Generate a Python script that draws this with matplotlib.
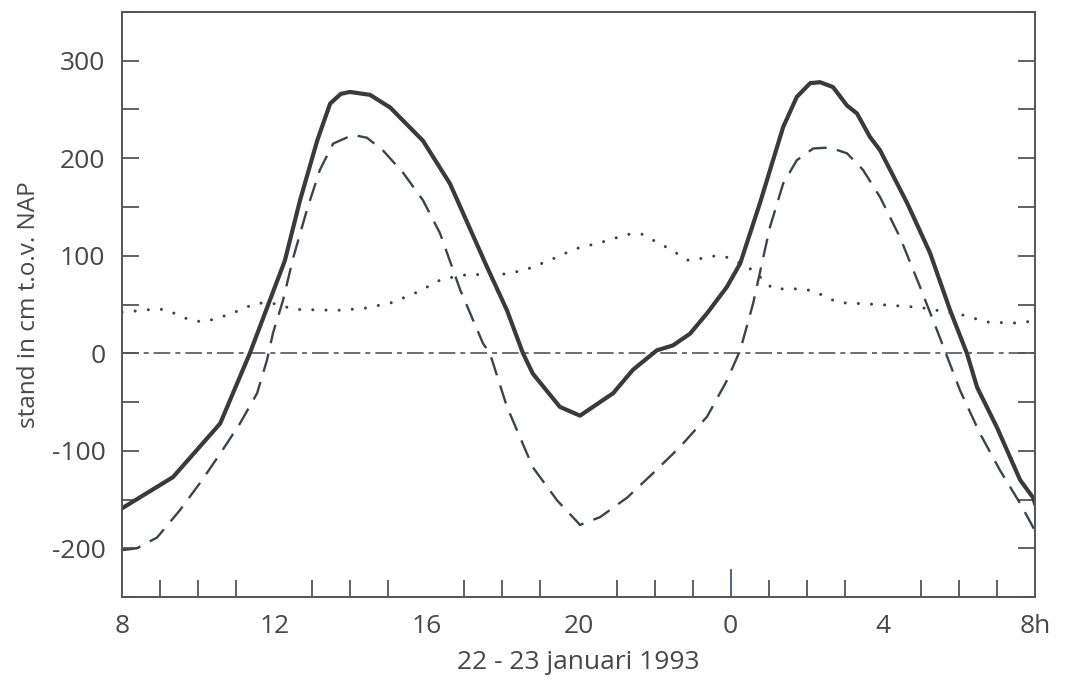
import matplotlib.pyplot as plt
import numpy as np

plt.rcParams['font.family'] = ['Open Sans', 'DejaVu Sans']
plt.rcParams['axes.unicode_minus'] = False

# uren vanaf 22 jan 0h (8 = 22 jan 8h, 32 = 23 jan 8h)
t_gemeten = [8.0, 9.34, 10.58, 11.36, 12.28, 12.68, 13.13, 13.47, 13.75, 13.99, 14.52,
             15.05, 15.91, 16.62, 17.6, 18.12, 18.54, 18.8, 19.51, 20.04, 20.91,
             21.43, 22.06, 22.48, 22.93, 23.38, 23.9, 24.25, 24.77, 25.38, 25.74,
             26.09, 26.35, 26.69, 27.06, 27.32, 27.66, 27.93, 28.64, 29.24, 29.77,
             30.21, 30.48, 31.0, 31.61, 31.95, 32.0]
h_gemeten = [-159, -127, -72, 0, 95, 157, 218, 256, 266, 268, 265,
             252, 218, 174, 88, 44, 0, -21, -55, -64, -41,
             -17, 3, 8, 20, 41, 68, 92, 154, 232, 263,
             277, 278, 273, 254, 246, 222, 208, 154, 103, 44,
             0, -35, -76, -130, -148, -154]

t_getij = [8.0, 8.39, 8.92, 9.52, 10.05, 10.58, 11.1, 11.55, 11.81, 11.97,
           12.23, 12.5, 12.86, 13.2, 13.55, 14.07, 14.44, 14.86, 15.39, 15.91,
           16.36, 16.89, 17.49, 17.67, 18.12, 18.8, 19.44, 20.04, 20.57, 21.28,
           21.96, 22.67, 23.38, 23.9, 24.25, 24.59, 25.03, 25.38, 25.74, 26.17,
           26.61, 27.06, 27.48, 27.93, 28.45, 28.98, 29.5, 30.03, 30.55, 31.08,
           31.61, 32.0]
h_getij = [-202, -200, -189, -161, -133, -103, -72, -41, -7, 21,
           54, 98, 147, 188, 215, 224, 221, 208, 185, 157,
           123, 65, 10, 0, -55, -117, -151, -176, -168, -148,
           -123, -96, -65, -28, 3, 51, 129, 174, 198, 210,
           211, 205, 188, 160, 119, 68, 16, -38, -82, -120,
           -154, -182]

t_opzet = [8.0, 8.79, 9.13, 9.79, 10.16, 10.84, 11.5, 11.89, 12.55, 13.65,
           14.36, 15.1, 15.78, 16.41, 17.12, 17.86, 18.57, 19.22, 19.91, 20.62,
           21.3, 21.67, 22.3, 22.9, 23.62, 23.96, 24.59, 25.11, 25.82, 26.17,
           26.82, 27.9, 28.98, 30.03, 30.74, 31.45, 32.0]
h_opzet = [42, 45, 45, 34, 32, 40, 51, 52, 45, 44,
           46, 52, 63, 76, 81, 80, 85, 95, 107, 114,
           122, 122, 109, 95, 100, 98, 85, 66, 66, 64,
           52, 50, 47, 40, 32, 31, 33]

x_ticks = [8, 12, 16, 20, 24, 28, 32]
x_labels = ['8', '12', '16', '20', '0', '4', '8h']
y_ticks = [-200, -100, 0, 100, 200, 300]

kleur = '#3a3a3c'
tekst = '#474749'

fig = plt.figure(figsize=(10.65, 6.89), dpi=100)
ax = fig.add_axes([0.1146, 0.1335, 0.8572, 0.8491])

ax.axhline(0, color='#555558', lw=1.2, dashes=(10, 3, 3, 3))
ax.plot(t_opzet, h_opzet, color='#3c4250', lw=2.2, dashes=(0.01, 4.3),
        dash_capstyle='round')
ax.plot(t_getij, h_getij, color='#3c4250', lw=1.7, dashes=(8, 4.5),
        solid_joinstyle='round')
ax.plot(t_gemeten, h_gemeten, color=kleur, lw=3.0, solid_joinstyle='round')

ax.set_xlim(8, 32)
ax.set_ylim(-250, 350)

ax.set_xticks(x_ticks)
ax.set_xticklabels(x_labels)
ax.set_xticks(np.arange(8, 33, 1), minor=True)
ax.set_yticks(y_ticks)
ax.set_yticks(np.arange(-250, 351, 50), minor=True)

ax.tick_params(axis='both', which='both', direction='in', colors='#555558',
               labelcolor=tekst, labelsize=19, width=1.3)
ax.tick_params(axis='y', which='both', length=12, left=True, right=True)
ax.tick_params(axis='x', which='minor', length=12)
ax.tick_params(axis='x', which='major', length=0, pad=12)
ax.tick_params(axis='y', which='major', pad=12)
# lange streep bij middernacht
ax.plot([24, 24], [-250, -222], color='#3a5a80', lw=1.3, clip_on=False)

for s in ax.spines.values():
    s.set_color('#555558')
    s.set_linewidth(1.4)

ax.set_ylabel('stand in cm t.o.v. NAP', fontsize=17.5, color=tekst, labelpad=8)
ax.set_xlabel('22 - 23 januari 1993', fontsize=19, color=tekst, labelpad=8)

fig.savefig('out.png', dpi=100)
